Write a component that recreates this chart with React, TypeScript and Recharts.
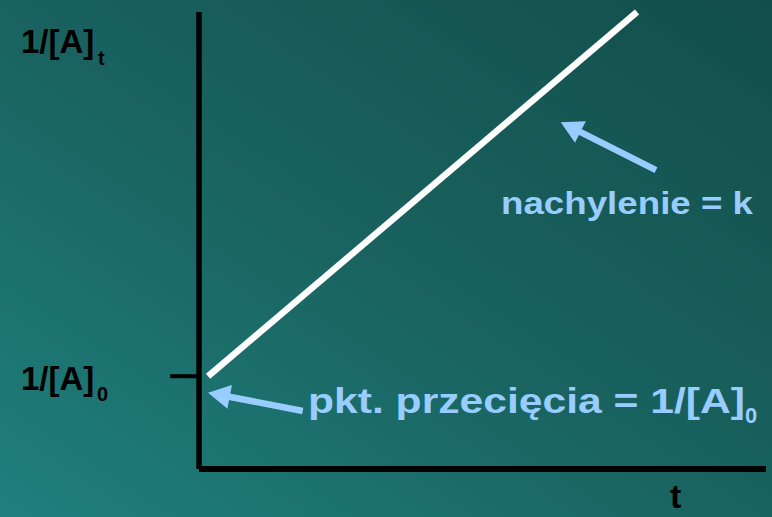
import { Customized, Line, LineChart, ReferenceLine, XAxis, YAxis } from "recharts";

const TIME = [1.6, 77.25];
const INV_CONC = [20.3, 100];
const INTERCEPT = 20.3;
const SLOPE_ARROW = [
  { x: 80.6, y: 65.4 },
  { x: 63.8, y: 75.9 },
];
const INTERCEPT_ARROW = [
  { x: 18.3, y: 12.7 },
  { x: 1.6, y: 16.7 },
];
const SLOPE_LABEL = "nachylenie = k";
const INTERCEPT_LABEL = "pkt. przecięcia = 1/[A]";

const data = TIME.map((t, i) => ({ t, v: INV_CONC[i] }));

const FONT = "'Liberation Sans', Arial, sans-serif";
const BLUE = "#99ccff";

function Arrow(props: any) {
  const { x1, y1, x2, y2 } = props;
  const dx = x2 - x1;
  const dy = y2 - y1;
  const len = Math.hypot(dx, dy);
  const ux = dx / len;
  const uy = dy / len;
  const head = 22;
  const half = 12;
  const bx = x2 - ux * head;
  const by = y2 - uy * head;
  return (
    <g>
      <line x1={x1} y1={y1} x2={bx + ux * 2} y2={by + uy * 2} stroke={BLUE} strokeWidth={6.5} />
      <polygon
        points={`${x2},${y2} ${bx - uy * half},${by + ux * half} ${bx + uy * half},${by - ux * half}`}
        fill={BLUE}
      />
    </g>
  );
}

function InterceptTick(props: any) {
  const { y } = props;
  return (
    <g fontFamily={FONT} fontWeight="bold" fill="#000">
      <text x={21} y={y + 14} fontSize={33}>
        1/[A]
      </text>
      <text x={97} y={y + 25} fontSize={20}>
        0
      </text>
    </g>
  );
}

function Annotations() {
  return (
    <g fontFamily={FONT} fontWeight="bold">
      <text x={21} y={53} fontSize={33} fill="#000">
        1/[A]
      </text>
      <text x={98} y={65} fontSize={20} fill="#000">
        t
      </text>
      <text x={670} y={508} fontSize={34} fill="#000">
        t
      </text>
      <text x={501} y={214} fontSize={32} fill={BLUE} textLength={252} lengthAdjust="spacingAndGlyphs">
        {SLOPE_LABEL}
      </text>
      <text x={308} y={413} fontSize={35} fill={BLUE} textLength={437} lengthAdjust="spacingAndGlyphs">
        {INTERCEPT_LABEL}
      </text>
      <text x={745} y={423} fontSize={22} fill={BLUE}>
        0
      </text>
    </g>
  );
}

export default function App() {
  return (
    <div
      style={{
        position: "absolute",
        left: 0,
        top: 0,
        width: 772,
        height: 517,
        background: "linear-gradient(to top right, #1f807d 0%, #19625f 50%, #124e4a 100%)",
      }}
    >
      <LineChart width={772} height={517} data={data} margin={{ top: 12, right: 6, bottom: 0, left: 0 }}>
        <XAxis
          type="number"
          dataKey="t"
          domain={[0, 100]}
          height={48}
          tick={false}
          tickLine={false}
          axisLine={{ stroke: "#000", strokeWidth: 6 }}
        />
        <YAxis
          type="number"
          domain={[0, 100]}
          width={199}
          ticks={[INTERCEPT]}
          tickSize={29}
          tickLine={{ stroke: "#000", strokeWidth: 4 }}
          tick={<InterceptTick />}
          axisLine={{ stroke: "#000", strokeWidth: 5.5 }}
        />
        <Line
          type="linear"
          dataKey="v"
          stroke="#ffffff"
          strokeWidth={6.5}
          dot={false}
          activeDot={false}
          isAnimationActive={false}
        />
        <ReferenceLine segment={SLOPE_ARROW} shape={(p: any) => <Arrow {...p} />} />
        <ReferenceLine segment={INTERCEPT_ARROW} shape={(p: any) => <Arrow {...p} />} />
        <Customized component={Annotations} />
      </LineChart>
    </div>
  );
}
